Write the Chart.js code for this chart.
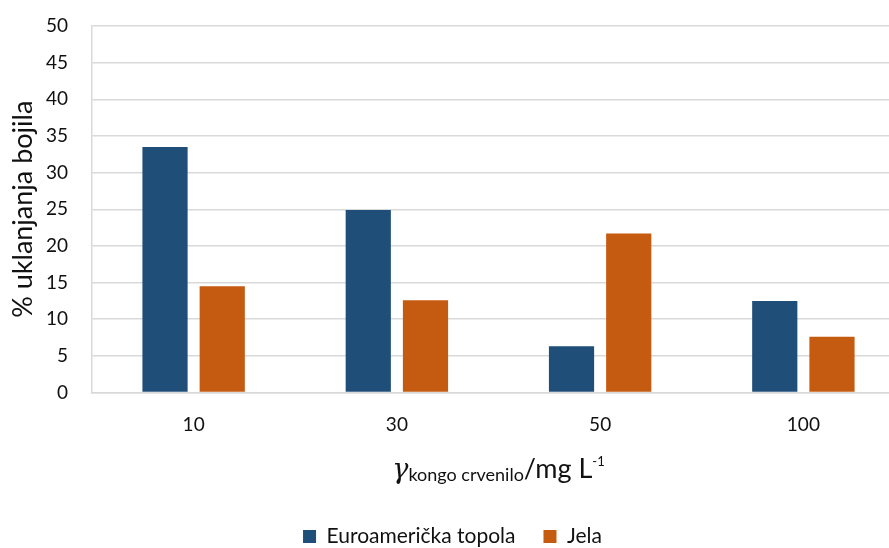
<!DOCTYPE html>
<html>
<head>
<meta charset="utf-8">
<script src="https://cdn.jsdelivr.net/npm/chart.js@4.4.1/dist/chart.umd.min.js"></script>
<style>
  html, body { margin: 0; padding: 0; background: #fff; overflow: hidden; }
  #wrap { position: relative; width: 905px; height: 548px; }
</style>
</head>
<body>
<div id="wrap"><canvas id="myChart"></canvas></div>
<script>
const categories = ['10', '30', '50', '100'];
const topola = [33.5, 24.9, 6.3, 12.5];
const jela = [14.5, 12.6, 21.7, 7.6];
const yTicks = [0, 5, 10, 15, 20, 25, 30, 35, 40, 45, 50];

const FONT = 'Lato, "Open Sans", sans-serif';
const TEXT = '#111';

const xTitle = {
  id: 'xTitle',
  beforeLayout(chart) {
    // wide gap between legend items, but a short legend box
    const lg = chart.legend;
    if (lg && !lg._shortFit) {
      const fit = lg.fit;
      lg.fit = function () { fit.call(this); this.height = 50; };
      lg._shortFit = true;
    }
  },
  // x-axis title has sub- and superscript, so it is drawn by hand
  afterDraw(chart) {
    const ctx = chart.ctx;
    const area = chart.chartArea;
    const parts = [
      { t: 'γ', f: 'italic 27px "DejaVu Serif", serif', dy: 0 },
      { t: 'kongo crvenilo', f: '18px ' + FONT, dy: 3 },
      { t: '/mg L', f: '27px ' + FONT, dy: 0 },
      { t: '-1', f: '13px ' + FONT, dy: -12 }
    ];
    let total = 0;
    parts.forEach(p => { ctx.font = p.f; p.w = ctx.measureText(p.t).width; total += p.w; });
    let x = (area.left + area.right) / 2 - total / 2;
    const base = area.bottom + 85;
    ctx.save();
    ctx.fillStyle = TEXT;
    ctx.textBaseline = 'alphabetic';
    ctx.textAlign = 'left';
    parts.forEach(p => {
      ctx.font = p.f;
      ctx.fillText(p.t, x, base + p.dy);
      x += p.w;
    });
    ctx.restore();
  }
};

const ctx = document.getElementById('myChart');

new Chart(ctx, {
  type: 'bar',
  data: {
    labels: categories,
    datasets: [
      { label: 'Euroamerička topola', data: topola, backgroundColor: '#1F4E79',
        categoryPercentage: 0.563, barPercentage: 0.79 },
      { label: 'Jela', data: jela, backgroundColor: '#C55A11',
        categoryPercentage: 0.563, barPercentage: 0.79 }
    ]
  },
  options: {
    responsive: true,
    maintainAspectRatio: false,
    animation: false,
    layout: { padding: { top: 26, right: 0, left: 0, bottom: 0 } },
    plugins: {
      tooltip: { enabled: false },
      legend: {
        position: 'bottom',
        labels: {
          color: TEXT,
          font: { family: FONT, size: 21 },
          boxWidth: 13,
          boxHeight: 13,
          padding: 28
        }
      }
    },
    scales: {
      x: {
        grid: { display: false, drawTicks: false },
        border: { color: '#d9d9d9', width: 1.5 },
        ticks: { color: TEXT, font: { family: FONT, size: 19 }, padding: 21 },
        afterFit: s => { s.height = 105.5; }
      },
      y: {
        min: 0,
        max: 50,
        afterBuildTicks: s => { s.ticks = yTicks.map(v => ({ value: v })); },
        grid: { color: '#d9d9d9', lineWidth: 1.5, drawTicks: false },
        border: { color: '#d9d9d9', width: 1.5 },
        ticks: { color: TEXT, font: { family: FONT, size: 19 }, padding: 24 },
        title: {
          display: true,
          text: '% uklanjanja bojila',
          color: TEXT,
          font: { family: FONT, size: 27 },
          padding: { top: 7, bottom: 0 }
        },
        afterFit: s => { s.width = 92; s.paddingTop = 0; s.paddingBottom = 0; }
      }
    }
  },
  plugins: [xTitle]
});
</script>
</body>
</html>
